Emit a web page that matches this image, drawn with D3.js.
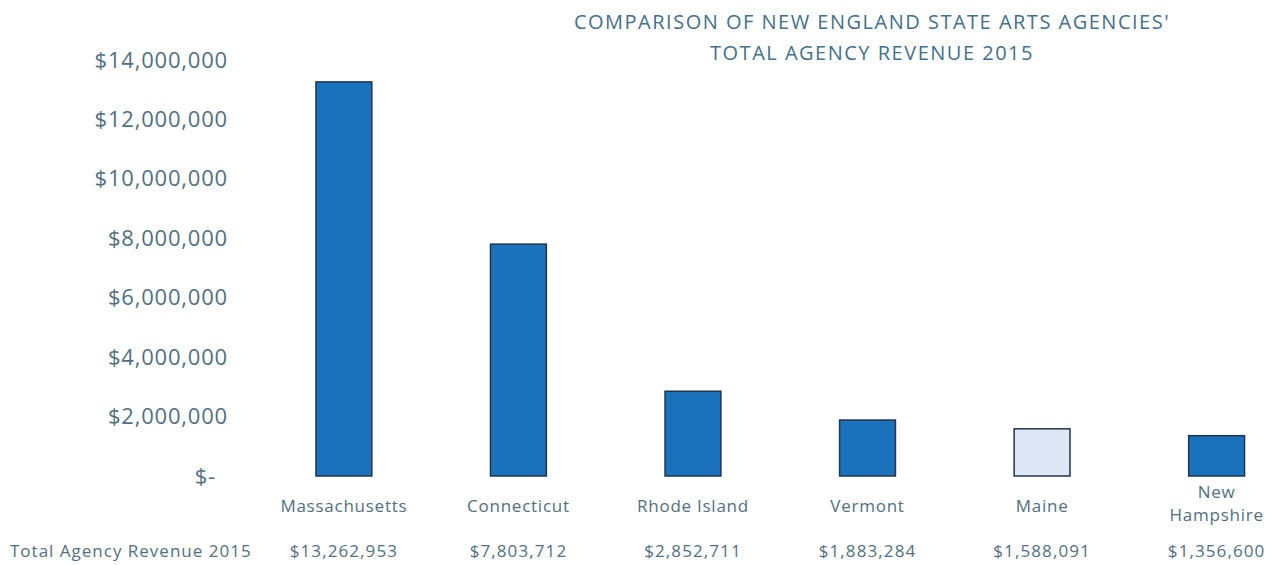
<!DOCTYPE html>
<html>
<head>
<meta charset="utf-8">
<script src="https://cdn.jsdelivr.net/npm/d3@7"></script>
<style>
  body { margin: 0; background: #fff; }
  svg { display: block; font-family: "Open Sans", Lato, sans-serif; }
</style>
</head>
<body>
<div id="chart"></div>
<script>
// Chart data
const states = ['Massachusetts', 'Connecticut', 'Rhode Island', 'Vermont', 'Maine', 'New Hampshire'];
const revenue = [13262953, 7803712, 2852711, 1883284, 1588091, 1356600];
const highlighted = ['Maine'];
const yTicks = [0, 2000000, 4000000, 6000000, 8000000, 10000000, 12000000, 14000000];
const titleLines = ["COMPARISON OF NEW ENGLAND STATE ARTS AGENCIES'", 'TOTAL AGENCY REVENUE 2015'];
const rowHeader = 'Total Agency Revenue 2015';

const width = 1273;
const height = 565;
const textColor = '#52707f';

const svg = d3.select('#chart')
    .append('svg')
    .attr('width', width)
    .attr('height', height);

// Scales
const x = d3.scaleBand()
    .domain(states)
    .range([298.5, 1262])
    .paddingInner(0.68)
    .paddingOuter(0.1);

const y = d3.scaleLinear()
    .domain([0, 14000000])
    .range([476, 60]);

const money = d3.format('$,');

// Y axis (labels only)
const yAxis = d3.axisLeft(y)
    .tickValues(yTicks)
    .tickSize(0)
    .tickPadding(0)
    .tickFormat(d => d === 0 ? '$-' : money(d));

const yG = svg.append('g')
    .attr('transform', 'translate(228,0)')
    .call(yAxis);
yG.select('.domain').remove();
yG.selectAll('text')
    .attr('fill', textColor)
    .style('font-size', '22px')
    .style('letter-spacing', '0.8px')
    .style('font-family', '"Open Sans", sans-serif')
    .attr('dx', d => d === 0 ? -12 : 0);

// Bars
svg.append('g')
    .selectAll('rect')
    .data(states)
    .enter()
    .append('rect')
    .attr('x', d => x(d))
    .attr('y', (d, i) => y(revenue[i]))
    .attr('width', x.bandwidth())
    .attr('height', (d, i) => y(0) - y(revenue[i]))
    .attr('fill', d => highlighted.includes(d) ? '#dde7f6' : '#1a72bc')
    .attr('stroke', '#23344a')
    .attr('stroke-width', 1.5);

// Category labels
const catG = svg.append('g');
states.forEach(s => {
    const cx = x(s) + x.bandwidth() / 2;
    const words = s === 'New Hampshire' ? ['New', 'Hampshire'] : [s];
    const t = catG.append('text')
        .attr('x', cx)
        .attr('text-anchor', 'middle')
        .attr('fill', textColor)
        .style('font-size', '17px')
        .style('letter-spacing', '0.75px');
    if (words.length === 1) {
        t.attr('y', 512).text(s);
    } else {
        words.forEach((w, i) => {
            t.append('tspan')
                .attr('x', cx)
                .attr('y', 498 + i * 23)
                .text(w);
        });
    }
});

// Data table row
svg.append('text')
    .attr('x', 10)
    .attr('y', 557)
    .attr('fill', textColor)
    .style('font-size', '17px')
    .style('letter-spacing', '1px')
    .text(rowHeader);

svg.append('g')
    .selectAll('text')
    .data(states)
    .enter()
    .append('text')
    .attr('x', d => x(d) + x.bandwidth() / 2)
    .attr('y', 557)
    .attr('text-anchor', 'middle')
    .attr('fill', textColor)
    .style('font-size', '17px')
    .style('letter-spacing', '1.1px')
    .text((d, i) => money(revenue[i]));

// Title
svg.append('g')
    .selectAll('text')
    .data(titleLines)
    .enter()
    .append('text')
    .attr('x', 872)
    .attr('y', (d, i) => 29 + i * 31)
    .attr('text-anchor', 'middle')
    .attr('fill', '#44708a')
    .style('font-size', '20px')
    .style('letter-spacing', '1.5px')
    .text(d => d);
</script>
</body>
</html>
